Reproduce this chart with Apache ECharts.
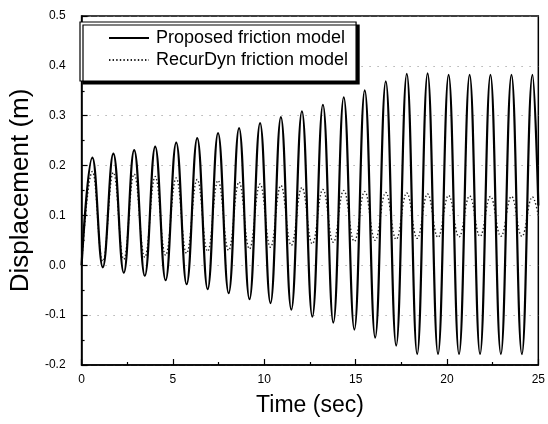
<!DOCTYPE html>
<html>
<head>
<meta charset="utf-8">
<script src="https://cdn.jsdelivr.net/npm/echarts@6/dist/echarts.min.js"></script>
<style>
  html, body { margin: 0; padding: 0; background: #fff; }
  #chart { width: 548px; height: 424px; }
</style>
</head>
<body>
<div id="chart"></div>
<script>
// Times (sec) of the start, each crest / trough, and the end of the record
var timeSec = [0, 0.59, 1.16, 1.74, 2.31, 2.88, 3.46, 4.03, 4.60, 5.18, 5.75, 6.33, 6.90,
  7.47, 8.05, 8.62, 9.19, 9.77, 10.34, 10.91, 11.48, 12.06, 12.63, 13.21, 13.78, 14.35,
  14.93, 15.50, 16.07, 16.65, 17.22, 17.80, 18.37, 18.94, 19.51, 20.09, 20.66, 21.24,
  21.81, 22.38, 22.95, 23.53, 24.10, 24.68, 25.0];

// Displacement (m), proposed friction model
var proposedDisp = [0.0, 0.216, -0.004, 0.224, -0.015, 0.231, -0.021, 0.238, -0.030,
  0.246, -0.038, 0.255, -0.048, 0.265, -0.056, 0.275, -0.068, 0.285, -0.076, 0.297,
  -0.089, 0.309, -0.103, 0.322, -0.115, 0.337, -0.129, 0.351, -0.145, 0.369, -0.161,
  0.384, -0.178, 0.385, -0.178, 0.382, -0.178, 0.382, -0.178, 0.382, -0.178, 0.382,
  -0.178, 0.382, 0.12];

// Displacement (m), RecurDyn friction model
var recurDynDisp = [0.0, 0.188, 0.008, 0.186, 0.012, 0.183, 0.016, 0.178, 0.020, 0.175,
  0.024, 0.172, 0.028, 0.170, 0.030, 0.167, 0.033, 0.163, 0.036, 0.160, 0.040, 0.156,
  0.043, 0.152, 0.046, 0.150, 0.048, 0.148, 0.050, 0.146, 0.052, 0.145, 0.054, 0.143,
  0.056, 0.140, 0.057, 0.139, 0.058, 0.138, 0.058, 0.138, 0.058, 0.137, 0.10];

var seriesNames = ['Proposed friction model', 'RecurDyn friction model'];

function pairs(xs, ys) {
  return xs.map(function (x, i) { return [x, ys[i]]; });
}

var FONT = 'Arial, "Liberation Sans", sans-serif';
var chart = echarts.init(document.getElementById('chart'), null, { renderer: 'canvas' });

chart.setOption({
  animation: false,
  backgroundColor: '#fff',
  grid: {
    left: 72, top: 16, width: 469, height: 349,
    show: true, borderColor: '#000', borderWidth: 1.5, backgroundColor: 'transparent'
  },
  legend: {
    left: 80, top: 22,
    orient: 'vertical',
    padding: [7, 8, 12, 28],
    itemWidth: 40, itemHeight: 14, itemGap: 4,
    backgroundColor: '#fff',
    borderColor: '#000', borderWidth: 1.2,
    shadowColor: '#000', shadowBlur: 0, shadowOffsetX: 3, shadowOffsetY: 3,
    // legend keys show only the line stroke, no marker
    itemStyle: { opacity: 0 },
    textStyle: { fontFamily: FONT, fontSize: 18, color: '#000', lineHeight: 18, padding: [0, 0, 0, 2] },
    data: seriesNames
  },
  xAxis: {
    type: 'value', min: 0, max: 25, interval: 5,
    name: 'Time (sec)', nameLocation: 'middle', nameGap: 29,
    nameTextStyle: { fontFamily: FONT, fontSize: 23, color: '#000' },
    axisLine: { show: true, onZero: false, lineStyle: { color: '#000', width: 1.5 } },
    axisTick: { inside: true, length: 6, lineStyle: { color: '#000', width: 1.2 } },
    minorTick: { show: true, splitNumber: 2, length: 3, lineStyle: { color: '#000', width: 1.2 } },
    axisLabel: { fontFamily: FONT, fontSize: 12, color: '#000', margin: 9 },
    splitLine: { show: false }
  },
  yAxis: {
    type: 'value', min: -0.2, max: 0.5, interval: 0.1,
    name: 'Displacement (m)', nameLocation: 'middle', nameGap: 36,
    nameTextStyle: { fontFamily: FONT, fontSize: 26, color: '#000' },
    axisLine: { show: true, onZero: false, lineStyle: { color: '#000', width: 1.5 } },
    axisTick: { inside: true, length: 6, lineStyle: { color: '#000', width: 1.2 } },
    minorTick: { show: true, splitNumber: 2, length: 3, lineStyle: { color: '#000', width: 1.2 } },
    axisLabel: {
      fontFamily: FONT, fontSize: 12, color: '#000', margin: 16,
      formatter: function (v) { return v.toFixed(1); }
    },
    splitLine: { show: true, lineStyle: { color: '#8a8a8a', width: 1, type: [1, 7] } }
  },
  series: [
    {
      name: seriesNames[0], type: 'line', data: pairs(timeSec, proposedDisp),
      smooth: 0.43, symbol: 'none', z: 3,
      lineStyle: { color: '#000', width: 2.2 },
      itemStyle: { color: '#000' }
    },
    {
      name: seriesNames[1], type: 'line', data: pairs(timeSec, recurDynDisp),
      smooth: 0.43, symbol: 'none', z: 2,
      lineStyle: { color: '#222', width: 1.4, type: [1.4, 2.2] },
      itemStyle: { color: '#222' }
    }
  ]
});
</script>
</body>
</html>
